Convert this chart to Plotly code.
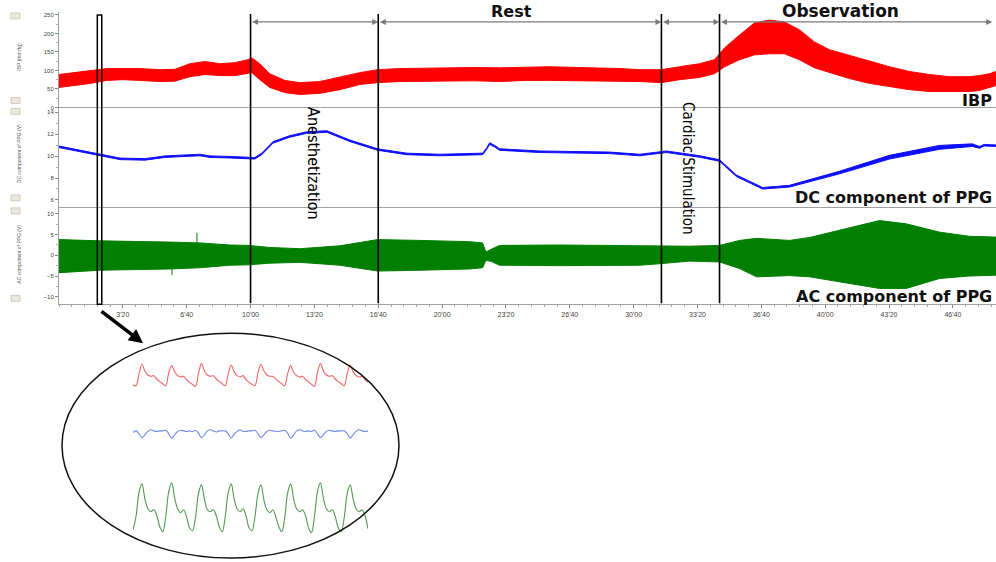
import numpy as np
import plotly.graph_objects as go

W, H = 996, 562

# ---------------- time axis (seconds) ----------------
t_max = 2935
tick_vals = [200 * i for i in range(1, 15)]
tick_text = ["3'20", "6'40", "10'00", "13'20", "16'40", "20'00", "23'20",
             "26'40", "30'00", "33'20", "36'40", "40'00", "43'20", "46'40"]

# protocol boundaries (s)
t_anesth = 600
t_rest = 1000
t_stim = 1887
t_obs = 2069
t_obs_end = 2923
zoom_win = [120, 134]

# ---------------- IBP envelope (mmHg) ----------------
ibp_t = [0, 50, 100, 150, 200, 254, 316, 363, 410, 457, 504, 551, 592, 604, 629,
         660, 707, 754, 817, 880, 942, 998, 1067, 1150, 1224, 1300, 1380, 1460, 1537, 1620,
         1693, 1760, 1819, 1887, 1944, 2006, 2053, 2085, 2132, 2178, 2225, 2272, 2319, 2366, 2413,
         2476, 2538, 2601, 2664, 2726, 2789, 2851, 2883, 2914, 2935]
ibp_hi = [89, 94, 99, 105, 105, 105, 102, 103, 118, 124, 118, 121, 129, 134, 118,
          91, 73, 67, 70, 83, 94, 102, 105, 106, 107, 108, 107, 109, 110, 108,
          107, 105, 102, 102, 110, 118, 129, 161, 196, 228, 236, 231, 210, 177, 156,
          140, 124, 110, 97, 89, 83, 83, 86, 91, 97]
ibp_lo = [54, 59, 65, 73, 75, 73, 70, 71, 83, 89, 86, 86, 91, 94, 75,
          54, 40, 35, 38, 48, 62, 67, 70, 71, 73, 72, 70, 73, 73, 72,
          73, 71, 70, 67, 75, 81, 91, 110, 129, 142, 145, 145, 129, 107, 94,
          78, 65, 56, 48, 43, 43, 43, 46, 54, 59]

# ---------------- DC component of PPG (V) ----------------
dc_t = [0, 128, 191, 269, 332, 441, 473, 535, 592, 613, 635, 670, 723, 776, 839,
        911, 998, 1089, 1193, 1296, 1327, 1340, 1349, 1365, 1380, 1506, 1609, 1725, 1819, 1903,
        2006, 2069, 2122, 2204, 2288, 2445, 2601, 2758, 2861, 2883, 2898, 2935]
dc_v = [10.85, 10.12, 9.75, 9.7, 9.95, 10.1, 9.95, 9.9, 9.85, 9.8, 10.2, 11.25, 11.8, 12.15, 12.25,
        11.4, 10.6, 10.2, 10.1, 10.15, 10.2, 10.7, 11.15, 10.9, 10.6, 10.4, 10.35, 10.3, 10.1, 10.4,
        9.97, 9.6, 8.2, 7.06, 7.25, 8.5, 9.9, 10.8, 11.0, 10.8, 11.0, 10.95]
dc_half = [0.07, 0.07, 0.07, 0.07, 0.07, 0.07, 0.07, 0.07, 0.07, 0.07, 0.07, 0.07, 0.07, 0.07, 0.07,
           0.07, 0.07, 0.07, 0.07, 0.07, 0.07, 0.07, 0.07, 0.07, 0.07, 0.07, 0.07, 0.07, 0.07, 0.07,
           0.07, 0.07, 0.07, 0.07, 0.08, 0.12, 0.17, 0.18, 0.12, 0.08, 0.07, 0.07]

# ---------------- AC component of PPG envelope (V) ----------------
ac_t = [0, 128, 347, 441, 535, 592, 660, 754, 880, 998, 1130, 1286, 1327, 1337, 1355, 1380,
        1568, 1819, 1887, 1975, 2069, 2132, 2185, 2288, 2351, 2445, 2570, 2654, 2758, 2851, 2935]
ac_hi = [3.8, 3.5, 3.2, 3.0, 2.5, 2.4, 1.9, 1.6, 2.3, 3.8, 3.6, 3.3, 3.0, 0.8, 1.5, 2.4,
         2.5, 2.4, 2.3, 2.2, 2.4, 3.6, 4.1, 3.6, 4.3, 6.0, 8.4, 7.6, 5.6, 4.6, 4.4]
ac_lo = [-4.2, -3.6, -3.3, -3.0, -2.4, -2.3, -1.9, -1.7, -2.4, -3.8, -3.6, -3.3, -3.0, -1.2, -1.5, -2.4,
         -2.5, -2.4, -2.0, -1.4, -1.6, -3.2, -5.2, -4.9, -5.2, -6.4, -8.0, -8.0, -5.6, -5.0, -4.8]
ac_spike_t = [354, 432]
ac_spike_v = [-4.8, 5.4]

# ---------------- zoomed beats (inset) ----------------
ins_dt = 0.05
ins_ibp = [79, 78, 95, 110, 100, 94, 92, 93, 88, 84,
           81, 78, 97, 108, 99, 93, 91, 92, 87, 83,
           80, 77, 96, 111, 100, 94, 92, 93, 88, 84,
           81, 78, 95, 109, 99, 93, 91, 93, 87, 83,
           80, 78, 97, 110, 100, 94, 92, 92, 88, 84,
           81, 78, 96, 108, 98, 93, 91, 92, 87, 84,
           80, 77, 97, 111, 100, 94, 92, 93, 88, 84,
           81, 78, 96, 109, 99, 93, 91, 92, 87, 83]
ins_dc = [10.02, 10.05, 10.00, 9.93, 9.98, 10.04, 10.07, 10.05, 10.04, 10.05,
          10.05, 10.06, 10.00, 9.92, 9.98, 10.04, 10.06, 10.05, 10.04, 10.05,
          10.04, 10.06, 10.01, 9.93, 9.98, 10.05, 10.07, 10.05, 10.03, 10.05,
          10.05, 10.05, 10.00, 9.92, 9.99, 10.04, 10.07, 10.04, 10.04, 10.05,
          10.05, 10.06, 10.00, 9.93, 9.98, 10.04, 10.06, 10.05, 10.04, 10.04,
          10.05, 10.06, 10.01, 9.92, 9.98, 10.05, 10.07, 10.05, 10.04, 10.05,
          10.04, 10.06, 10.00, 9.93, 9.98, 10.04, 10.06, 10.05, 10.04, 10.05,
          10.05, 10.05, 10.00, 9.92, 9.98, 10.04, 10.07, 10.05, 10.04, 10.05]
ins_ac = [-2.2, -0.9, 1.5, 2.4, 0.9, -0.1, -0.4, -0.2, -0.8, -1.9,
          -2.4, -0.9, 1.6, 2.5, 1.0, -0.1, -0.5, -0.2, -0.9, -2.0,
          -2.3, -1.0, 1.4, 2.3, 0.9, -0.2, -0.4, -0.2, -0.8, -1.9,
          -2.4, -0.9, 1.5, 2.4, 0.9, -0.1, -0.4, -0.1, -0.8, -2.0,
          -2.3, -0.9, 1.4, 2.3, 0.8, -0.2, -0.5, -0.2, -0.9, -1.9,
          -2.4, -1.0, 1.5, 2.4, 0.9, -0.1, -0.4, -0.2, -0.8, -2.0,
          -2.5, -0.9, 1.6, 2.5, 1.0, -0.1, -0.4, -0.2, -0.9, -2.0,
          -2.4, -1.0, 1.4, 2.3, 0.9, -0.1, -0.4, -0.2, -0.8, -2.1]
ins_t = np.arange(len(ins_ibp)) * ins_dt

RED, BLUE, GREEN = "#ff0000", "#0f0fff", "#007f00"


def py(y):
    return 1 - y / H


def px(x):
    return x / W


fig = go.Figure()


def band(t, lo, hi, color, xa, ya):
    fig.add_trace(go.Scatter(x=t, y=lo, mode="lines", line=dict(color=color, width=1),
                             xaxis=xa, yaxis=ya, hoverinfo="skip"))
    fig.add_trace(go.Scatter(x=t, y=hi, mode="lines", line=dict(color=color, width=1),
                             fill="tonexty", fillcolor=color, xaxis=xa, yaxis=ya, hoverinfo="skip"))


band(ibp_t, ibp_lo, ibp_hi, RED, "x3", "y3")
dc_lo = [v - h for v, h in zip(dc_v, dc_half)]
dc_hi = [v + h for v, h in zip(dc_v, dc_half)]
band(dc_t, dc_lo, dc_hi, BLUE, "x2", "y2")
band(ac_t, ac_lo, ac_hi, GREEN, "x", "y")
for st, sv in zip(ac_spike_t, ac_spike_v):
    fig.add_trace(go.Scatter(x=[st, st], y=[0, sv], mode="lines",
                             line=dict(color=GREEN, width=1), xaxis="x", yaxis="y"))

# inset traces
fig.add_trace(go.Scatter(x=ins_t, y=ins_ibp, mode="lines", line=dict(color="#f26464", width=1.1, shape="spline"),
                         xaxis="x4", yaxis="y4"))
fig.add_trace(go.Scatter(x=ins_t, y=ins_dc, mode="lines", line=dict(color="#7088f0", width=1.1, shape="spline"),
                         xaxis="x5", yaxis="y5"))
fig.add_trace(go.Scatter(x=ins_t, y=ins_ac, mode="lines", line=dict(color="#4f9a4f", width=1.1, shape="spline"),
                         xaxis="x6", yaxis="y6"))

XDOM = [59 / W, 1.0]
tick_font = dict(family="Liberation Sans, Arial, sans-serif", size=6, color="#444")
common_x = dict(domain=XDOM, range=[0, t_max], showgrid=False, zeroline=False,
                showline=True, linecolor="#a0a0a0", linewidth=1)
common_y = dict(showgrid=False, zeroline=False, showline=True, linecolor="#a0a0a0", linewidth=1,
                ticks="outside", ticklen=3, tickcolor="#888", tickfont=tick_font)

hidden = dict(visible=False, showgrid=False, zeroline=False)

fig.update_layout(
    width=W, height=H, margin=dict(l=0, r=0, t=0, b=0),
    paper_bgcolor="white", plot_bgcolor="rgba(0,0,0,0)", showlegend=False,
    xaxis=dict(**common_x, anchor="y", ticks="outside", ticklen=3, tickcolor="#888",
               tickvals=tick_vals, ticktext=tick_text,
               tickfont=dict(family="Liberation Sans, Arial, sans-serif", size=7, color="#444"),
               minor=dict(dtick=40, ticks="outside", ticklen=2, tickcolor="#aaa")),
    xaxis2=dict(**common_x, anchor="y2", matches="x", showticklabels=False, ticks=""),
    xaxis3=dict(**common_x, anchor="y3", matches="x", showticklabels=False, ticks=""),
    yaxis=dict(**common_y, domain=[py(306), py(208)], range=[-11.85, 11.7],
               tickvals=[-10, -5, 0, 5, 10], anchor="x",
               minor=dict(dtick=2.5, ticks="outside", ticklen=2, tickcolor="#aaa")),
    yaxis2=dict(**common_y, domain=[py(208), py(108)], range=[5.36, 14.45],
                tickvals=[6, 8, 10, 12, 14], anchor="x2",
                minor=dict(dtick=1, ticks="outside", ticklen=2, tickcolor="#aaa")),
    yaxis3=dict(**common_y, domain=[py(108), py(12)], range=[0, 258],
                tickvals=[0, 50, 100, 150, 200, 250], anchor="x3",
                minor=dict(dtick=25, ticks="outside", ticklen=2, tickcolor="#aaa")),
    xaxis4=dict(**hidden, domain=[133 / W, 368 / W], range=[0, ins_t[-1]], anchor="y4"),
    xaxis5=dict(**hidden, domain=[133 / W, 368 / W], range=[0, ins_t[-1]], anchor="y5"),
    xaxis6=dict(**hidden, domain=[133 / W, 368 / W], range=[0, ins_t[-1]], anchor="y6"),
    yaxis4=dict(**hidden, domain=[py(391), py(363)], range=[73.2, 114.8], anchor="x4"),
    yaxis5=dict(**hidden, domain=[py(445), py(427)], range=[9.84, 10.16], anchor="x5"),
    yaxis6=dict(**hidden, domain=[py(541), py(480)], range=[-3.05, 3.05], anchor="x6"),
)

shapes = []
# protocol boundary lines
for tb in [t_anesth, t_rest, t_stim, t_obs]:
    shapes.append(dict(type="line", xref="x", yref="paper", x0=tb, x1=tb,
                       y0=py(305), y1=py(14), line=dict(color="black", width=1.6), layer="above"))
# zoom window
shapes.append(dict(type="rect", xref="x", yref="paper", x0=zoom_win[0], x1=zoom_win[1],
                   y0=py(306), y1=py(15), line=dict(color="black", width=1.5), layer="above"))
# inset ellipse
shapes.append(dict(type="circle", xref="paper", yref="paper", x0=px(62), x1=px(399),
                   y0=py(561), y1=py(335), line=dict(color="#111", width=1.5)))
# toolbar buttons beside each channel
for yb in [13, 98, 109, 196, 209, 297]:
    shapes.append(dict(type="rect", xref="paper", yref="paper", x0=px(11), x1=px(20),
                       y0=py(yb + 6), y1=py(yb), fillcolor="#ece9dc", line=dict(color="#b5b2a6", width=0.6)))
fig.update_layout(shapes=shapes)

ann = []
# protocol phase arrows
y_arrow = (108 - 22) * 258 / 96
for a, b in [(t_anesth, t_rest), (t_rest, t_stim), (t_stim, t_obs), (t_obs, t_obs_end)]:
    ann.append(dict(xref="x3", yref="y3", axref="x3", ayref="y3", x=b, y=y_arrow, ax=a, ay=y_arrow,
                    text="", showarrow=True, arrowhead=2, arrowside="end+start", arrowsize=1,
                    arrowwidth=1.2, arrowcolor="#7a7a7a", standoff=0, startstandoff=0))


def label(x, y, text, font, xanchor="center", angle=0):
    ann.append(dict(xref="paper", yref="paper", x=px(x), y=py(y), text=text, showarrow=False,
                    xanchor=xanchor, yanchor="middle", textangle=angle, font=font))


bold = "DejaVu Sans, Verdana, sans-serif"
label(511, 12, "<b>Rest</b>", dict(family=bold, size=16, color="#111"))
label(840, 11, "<b>Observation</b>", dict(family=bold, size=17, color="#111"))
label(994, 101, "<b>IBP</b>", dict(family=bold, size=16, color="#111"), xanchor="right")
label(994, 199, "<b>DC component of PPG</b>", dict(family=bold, size=16, color="#111"), xanchor="right")
label(994, 298, "<b>AC component of PPG</b>", dict(family=bold, size=16, color="#111"), xanchor="right")

narrow = "DejaVu Sans Condensed, Liberation Sans Narrow, Arial Narrow, sans-serif"
label(314, 164, "Anesthetization", dict(family=narrow, size=16, color="black"), angle=90)
label(688, 169, "Cardiac Stimulation", dict(family=narrow, size=15, color="black"), angle=90)

# channel axis titles
small = dict(family="Liberation Sans, Arial, sans-serif", size=5, color="#555")
for txt, yc in [("IBP (mmHg)", 57), ("DC component of PPG (V)", 155), ("AC component of PPG (V)", 256)]:
    label(19, yc, txt, small, angle=-90)

# pointer from the zoom window to the inset
ann.append(dict(xref="paper", yref="paper", x=px(143), y=py(345), ax=-43, ay=-33, text="",
                showarrow=True, arrowhead=2, arrowsize=0.8, arrowwidth=3.5, arrowcolor="black"))

fig.update_layout(annotations=ann)

fig.write_html("out.html")
